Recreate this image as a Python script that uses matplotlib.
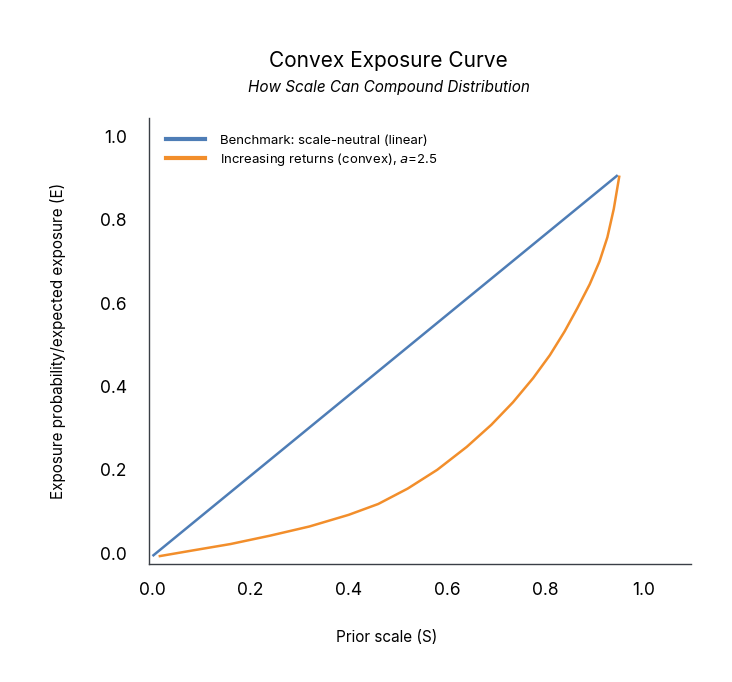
"""Convex exposure curve: linear benchmark vs convex (increasing returns)."""
import matplotlib
matplotlib.use("Agg")
import matplotlib.pyplot as plt

plt.rcParams["font.family"] = ["Inter", "DejaVu Sans"]

# Benchmark: scale-neutral (linear)
linear_x = [0.003, 0.945]
linear_y = [-0.005, 0.905]

# Increasing returns (convex)
convex_x = [0.016, 0.08, 0.16, 0.24, 0.32, 0.40, 0.46, 0.52, 0.58, 0.64,
            0.69, 0.734, 0.775, 0.809, 0.839, 0.865, 0.89, 0.91, 0.926, 0.939,
            0.950]
convex_y = [-0.007, 0.006, 0.022, 0.042, 0.064, 0.092, 0.118, 0.155, 0.200, 0.255,
            0.308, 0.362, 0.420, 0.475, 0.532, 0.588, 0.645, 0.700, 0.758, 0.826,
            0.903]

x_ticks = [0.0, 0.2, 0.4, 0.6, 0.8, 1.0]
y_ticks = [0.0, 0.2, 0.4, 0.6, 0.8, 1.0]

BLUE = "#4e7db6"
ORANGE = "#f28e2b"
SPINE = "#3a3f46"

fig = plt.figure(figsize=(7.32, 6.82), dpi=100)
ax = fig.add_axes([0.2036, 0.173, 0.7404, 0.654])

ax.plot(linear_x, linear_y, color=BLUE, linewidth=1.8,
        label="Benchmark: scale-neutral (linear)")
ax.plot(convex_x, convex_y, color=ORANGE, linewidth=1.8,
        label="Increasing returns (convex), $\\it{a}$=2.5")

ax.set_xlim(-0.006, 1.096)
ax.set_ylim(-0.026, 1.044)
ax.set_xticks(x_ticks)
ax.set_yticks(y_ticks)
ax.set_xticklabels([f"{t:.1f}" for t in x_ticks])
ax.set_yticklabels([f"{t:.1f}" for t in y_ticks])
ax.tick_params(axis="x", length=0, pad=13, labelsize=12.5)
ax.tick_params(axis="y", length=0, pad=16, labelsize=12.5)

for side in ["top", "right"]:
    ax.spines[side].set_visible(False)
for side in ["left", "bottom"]:
    ax.spines[side].set_color(SPINE)
    ax.spines[side].set_linewidth(1.0)

ax.set_xlabel("Prior scale (S)", fontsize=11)
ax.xaxis.set_label_coords(0.439, -0.148)
ax.set_ylabel("Exposure probability/expected exposure (E)", fontsize=11, labelpad=24)

leg = ax.legend(loc="upper left", frameon=False, fontsize=9.5,
                handlelength=2.9, handletextpad=1.2, labelspacing=0.3,
                bbox_to_anchor=(0.01, 0.99))
for line in leg.get_lines():
    line.set_linewidth(3.0)

fig.text(0.531, 0.911, "Convex Exposure Curve", ha="center", va="center", fontsize=15)
fig.text(0.531, 0.872, "How Scale Can Compound Distribution", ha="center", va="center",
         fontsize=11, style="italic")

plt.savefig("out.png", dpi=100)
plt.close()
